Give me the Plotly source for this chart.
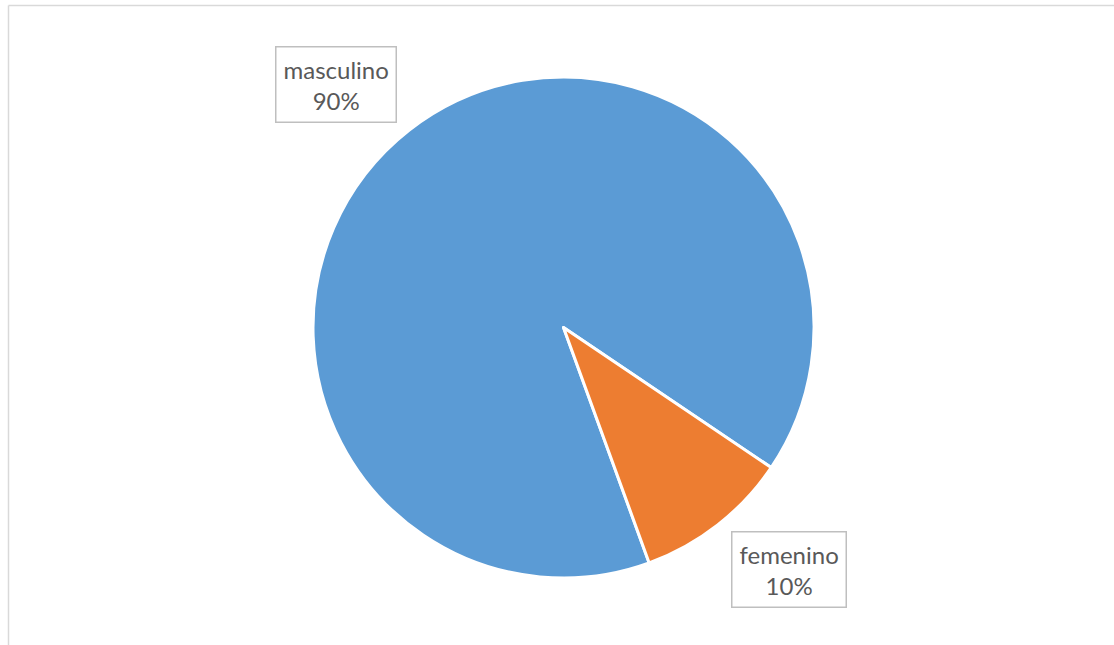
import plotly.graph_objects as go

# Distribution by sex
labels = ["masculino", "femenino"]
values = [90, 10]
colors = ["#5B9BD5", "#ED7D31"]

W, H = 1114, 645
cx, cy, r = 563.5, 327.5, 250.5

fig = go.Figure(
    go.Pie(
        labels=labels,
        values=values,
        sort=False,
        direction="clockwise",
        rotation=160,
        marker=dict(colors=colors, line=dict(color="white", width=3)),
        textinfo="none",
        hoverinfo="label+percent",
        showlegend=False,
        domain=dict(x=[(cx - r) / W, (cx + r) / W], y=[1 - (cy + r) / H, 1 - (cy - r) / H]),
    )
)

total = sum(values)
label_pos = {"masculino": (335.5, 84), "femenino": (788.5, 569.5)}
for lab, val in zip(labels, values):
    px, py = label_pos[lab]
    fig.add_annotation(
        x=px / W, y=1 - py / H, xref="paper", yref="paper",
        xanchor="center", yanchor="middle",
        text=f"{lab}<br>{round(100 * val / total)}%",
        showarrow=False,
        font=dict(family="Lato, Open Sans, sans-serif", size=24, color="#595959"),
        bordercolor="#BFBFBF", borderwidth=1.5, borderpad=7,
        bgcolor="white", align="center",
    )

# Chart area frame
fig.add_shape(type="line", xref="paper", yref="paper",
              x0=8.5 / W, x1=1.0, y0=1 - 5.5 / H, y1=1 - 5.5 / H,
              line=dict(color="#D9D9D9", width=1.5))
fig.add_shape(type="line", xref="paper", yref="paper",
              x0=8.5 / W, x1=8.5 / W, y0=0, y1=1 - 5.5 / H,
              line=dict(color="#D9D9D9", width=1.5))

fig.update_layout(
    width=W, height=H,
    margin=dict(l=0, r=0, t=0, b=0),
    paper_bgcolor="white", plot_bgcolor="white",
)

fig.write_html("out.html")
